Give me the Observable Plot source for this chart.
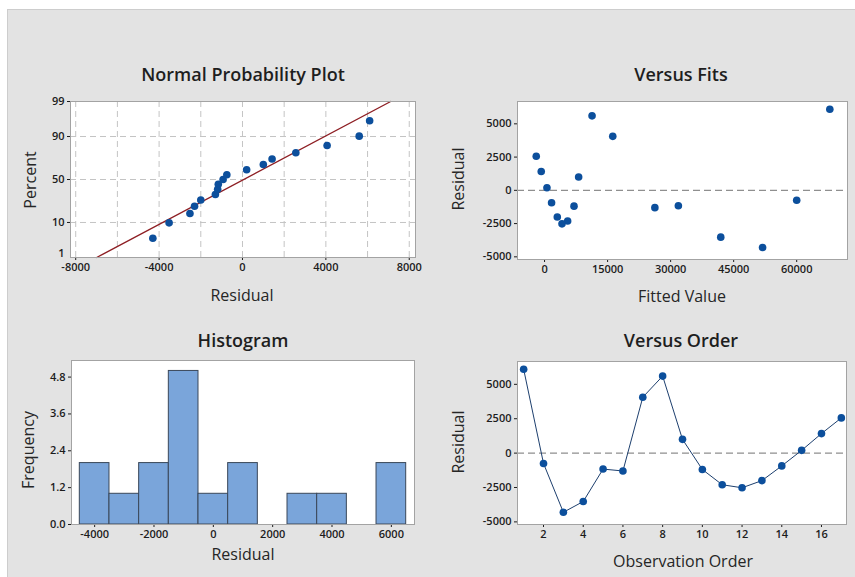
<!DOCTYPE html>
<html><head><meta charset="utf-8">
<script src="https://cdn.jsdelivr.net/npm/d3@7"></script>
<script src="https://cdn.jsdelivr.net/npm/@observablehq/plot@0.6"></script>
<style>
body{margin:0;width:855px;height:577px;position:relative;background:#fff;font-family:"Open Sans",sans-serif;overflow:hidden}
#bg{position:absolute;left:7px;top:9px;width:848px;height:568px;background:#e3e3e3;border-top:1px solid #cdcdcd;border-left:1px solid #cdcdcd;box-sizing:border-box}
.panel{position:absolute}
.lbl{position:absolute;white-space:nowrap;color:#262626;font-size:16px;line-height:1;transform:translate(-50%,-50%)}
.rot{transform:translate(-50%,-50%) rotate(-90deg)}
.title{font-size:18px;color:#1e1e1e;font-weight:600}
</style></head><body>
<div id="bg"></div>
<script>
// ---- data ----
const observation = [1,2,3,4,5,6,7,8,9,10,11,12,13,14,15,16,17];
const fittedValue = [67880,60000,51880,41930,31840,26250,16230,11300,8110,7010,5490,4150,3030,1670,570,-790,-1980];
const residual   = [6100,-750,-4300,-3520,-1160,-1300,4060,5600,1000,-1190,-2300,-2520,-2000,-930,200,1420,2560];
// plotted percent of the sorted residuals (normal probability plot)
const percentRank = [4.0,9.8,15.5,21.3,27.0,32.8,38.5,44.3,50.0,55.7,61.5,67.2,73.0,78.7,84.5,90.2,96.0];
const percentTicks = [1,10,50,90,99];
const percentGrid = [10,50,90];
const nppXTicks = [-8000,-4000,0,4000,8000];
const nppXGrid = [-8000,-6000,-4000,-2000,0,2000,4000,6000,8000];
const fitsXTicks = [0,15000,30000,45000,60000];
const residTicks = [-5000,-2500,0,2500,5000];
const histXTicks = [-4000,-2000,0,2000,4000,6000];
const histYTicks = [0,1.2,2.4,3.6,4.8];
const histBinEdges = [-4500,-3500,-2500,-1500,-500,500,1500,2500,3500,4500,5500,6500];
const orderTicks = [2,4,6,8,10,12,14,16];

// inverse normal CDF (Acklam)
function probit(p){
  const a=[-3.969683028665376e+01,2.209460984245205e+02,-2.759285104469687e+02,1.383577518672690e+02,-3.066479806614716e+01,2.506628277459239e+00];
  const b=[-5.447609879822406e+01,1.615858368580409e+02,-1.556989798598866e+02,6.680131188771972e+01,-1.328068155288572e+01];
  const c=[-7.784894002430293e-03,-3.223964580411365e-01,-2.400758277161838e+00,-2.549732539343734e+00,4.374664141464968e+00,2.938163982698783e+00];
  const d=[7.784695709041462e-03,3.224671290700398e-01,2.445134137142996e+00,3.754408661907416e+00];
  const pl=0.02425, ph=1-pl; let q,r;
  if(p<pl){q=Math.sqrt(-2*Math.log(p));return (((((c[0]*q+c[1])*q+c[2])*q+c[3])*q+c[4])*q+c[5])/((((d[0]*q+d[1])*q+d[2])*q+d[3])*q+1);}
  if(p<=ph){q=p-0.5;r=q*q;return (((((a[0]*r+a[1])*r+a[2])*r+a[3])*r+a[4])*r+a[5])*q/(((((b[0]*r+b[1])*r+b[2])*r+b[3])*r+b[4])*r+1);}
  q=Math.sqrt(-2*Math.log(1-p));return -(((((c[0]*q+c[1])*q+c[2])*q+c[3])*q+c[4])*q+c[5])/((((d[0]*q+d[1])*q+d[2])*q+d[3])*q+1);
}

const rows = observation.map((o,i)=>({obs:o, fitted:fittedValue[i], residual:residual[i]}));
const sorted = residual.slice().sort((a,b)=>a-b);
const npp = sorted.map((r,i)=>({x:r, z:probit(percentRank[i]/100)}));
const mu = d3.mean(residual), sd = d3.deviation(residual);
const zLo = probit(percentTicks[0]/100), zHi = probit(percentTicks[percentTicks.length-1]/100);
const fitLine = [zLo, zHi].map(z=>({z, x:mu+sd*z}));
const zTicks = percentTicks.map(p=>probit(p/100));
const zGrid = percentGrid.map(p=>probit(p/100));
const pctLabel = z=>String(percentTicks[zTicks.findIndex(t=>Math.abs(t-z)<1e-9)]);

const PT = "#0c4f9c", FRAME = "#a3a3a3", TXT = "#1c1c1c";
const baseStyle = {background:"transparent", fontFamily:"'Open Sans', sans-serif", fontSize:"11px", fontWeight:"600", color:TXT, overflow:"visible"};
const axisOpts = {label:null, tickSize:3, tickPadding:3};
const num = d=>String(d);

function place(svg, left, top){
  const d=document.createElement("div"); d.className="panel"; d.style.left=left+"px"; d.style.top=top+"px";
  d.appendChild(svg); document.body.appendChild(d);
}
function label(text, x, y, cls){
  const d=document.createElement("div"); d.className="lbl "+(cls||""); d.textContent=text;
  d.style.left=x+"px"; d.style.top=y+"px"; document.body.appendChild(d);
}

// ---- Normal Probability Plot ----
place(Plot.plot({
  width:430, height:260, marginLeft:70, marginRight:15, marginTop:41, marginBottom:63,
  style:baseStyle,
  x:{...axisOpts, domain:[-8250,8300], ticks:nppXTicks, tickFormat:num},
  y:{...axisOpts, domain:[zLo,zHi], ticks:zTicks.slice(1), tickFormat:pctLabel},
  marks:[
    Plot.frame({fill:"white", stroke:"none"}),
    Plot.ruleX(nppXGrid, {stroke:"#c4c4c4", strokeDasharray:"6,4"}),
    Plot.ruleY(zGrid, {stroke:"#c4c4c4", strokeDasharray:"6,4"}),
    Plot.line(fitLine, {x:"x", y:"z", stroke:"#8e1f24", strokeWidth:1.4}),
    Plot.dot(npp, {x:"x", y:"z", r:3.8, fill:PT, stroke:"none"}),
    Plot.frame({stroke:FRAME}),
    Plot.text(zTicks.slice(0,1), {y:d=>d, text:pctLabel, frameAnchor:"left", textAnchor:"end", dx:-6, dy:-4, fill:TXT})
  ]
}), 0, 60);

// ---- Versus Fits ----
place(Plot.plot({
  width:425, height:260, marginLeft:87, marginRight:8, marginTop:41, marginBottom:61,
  style:baseStyle,
  x:{...axisOpts, domain:[-6440,72090], ticks:fitsXTicks, tickFormat:num},
  y:{...axisOpts, domain:[-5200,6680], ticks:residTicks, tickFormat:num},
  marks:[
    Plot.frame({fill:"white", stroke:"none"}),
    Plot.ruleY([0], {stroke:"#8f8f8f", strokeDasharray:"7,4", strokeWidth:1.3}),
    Plot.dot(rows, {x:"fitted", y:"residual", r:3.8, fill:PT, stroke:"none"}),
    Plot.frame({stroke:FRAME})
  ]
}), 430, 60);

// ---- Histogram ----
place(Plot.plot({
  width:430, height:257, marginLeft:71, marginRight:16, marginTop:40, marginBottom:53,
  style:baseStyle,
  x:{...axisOpts, domain:[-4780,6780], ticks:histXTicks, tickFormat:num},
  y:{...axisOpts, domain:[0,5.34], ticks:histYTicks, tickFormat:d3.format(".1f")},
  marks:[
    Plot.frame({fill:"white", stroke:"none"}),
    Plot.rectY(residual, Plot.binX({y:"count"}, {x:d=>d, thresholds:histBinEdges, fill:"#7aa5da", stroke:"#3a4759", strokeWidth:1, inset:0})),
    Plot.frame({stroke:FRAME})
  ]
}), 0, 320);

// ---- Versus Order ----
place(Plot.plot({
  width:425, height:257, marginLeft:87, marginRight:9, marginTop:41, marginBottom:53,
  style:baseStyle,
  x:{...axisOpts, domain:[0.69,17.26], ticks:orderTicks, tickFormat:num},
  y:{...axisOpts, domain:[-5190,6660], ticks:residTicks, tickFormat:num},
  marks:[
    Plot.frame({fill:"white", stroke:"none"}),
    Plot.ruleY([0], {stroke:"#8f8f8f", strokeDasharray:"7,4", strokeWidth:1.3}),
    Plot.line(rows, {x:"obs", y:"residual", stroke:"#1d3f6e", strokeWidth:1}),
    Plot.dot(rows, {x:"obs", y:"residual", r:3.8, fill:PT, stroke:"none"}),
    Plot.frame({stroke:FRAME})
  ]
}), 430, 320);

// ---- titles and axis labels ----
label("Normal Probability Plot", 243, 74, "title");
label("Versus Fits", 681, 74, "title");
label("Histogram", 243, 340, "title");
label("Versus Order", 681, 340, "title");
label("Residual", 242, 295);
label("Percent", 30, 180, "rot");
label("Fitted Value", 682, 296);
label("Residual", 458, 179, "rot");
label("Residual", 243, 554);
label("Frequency", 28, 450, "rot");
label("Observation Order", 683, 561);
label("Residual", 458, 442, "rot");
</script>
</body></html>
